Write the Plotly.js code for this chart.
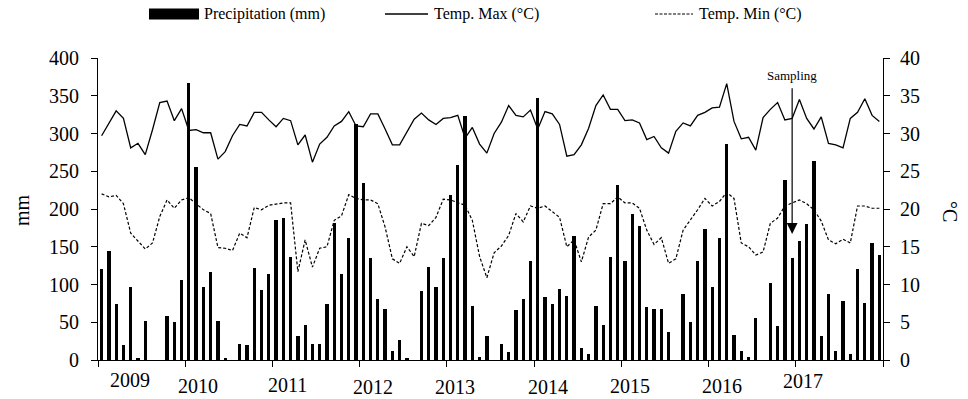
<!DOCTYPE html>
<html>
<head>
<meta charset="utf-8">
<script src="https://cdn.plot.ly/plotly-3.0.1.min.js"></script>
<style>html,body{margin:0;padding:0;background:#fff;}#chart{width:968px;height:399px;}</style>
</head>
<body>
<div id="chart"></div>
<script>
// ---- data (monthly, Jan 2009 .. Dec 2017) ----
const years = [2009, 2010, 2011, 2012, 2013, 2014, 2015, 2016, 2017];

const precipitation = [
  120, 145, 74, 20, 97, 3, 52, 0, 0, 58, 51, 106,
  367, 255, 97, 117, 52, 2, 0, 21, 20, 122, 93, 114,
  185, 188, 137, 32, 47, 21, 21, 74, 182, 114, 162, 312,
  235, 135, 81, 68, 12, 27, 3, 0, 91, 123, 97, 135,
  219, 258, 323, 71, 4, 32, 0, 21, 10, 66, 81, 131,
  347, 83, 74, 94, 85, 164, 16, 8, 71, 47, 137, 232,
  131, 193, 178, 70, 68, 68, 37, 0, 88, 51, 131, 174,
  97, 162, 286, 33, 12, 4, 55, 0, 102, 45, 238, 135,
  157, 180, 263, 32, 87, 12, 78, 8, 120, 75, 155, 139
];

const tempMax = [
  29.7, 31.4, 33.0, 32.0, 28.1, 28.7, 27.2, 30.5, 34.1, 34.3, 31.7, 33.3,
  30.4, 30.5, 30.1, 30.1, 26.6, 27.6, 29.7, 31.2, 31.0, 32.8, 32.8, 31.8,
  30.9, 32.0, 31.7, 28.5, 29.8, 26.2, 28.6, 29.5, 31.0, 31.6, 32.9, 31.0,
  30.9, 32.6, 32.6, 30.6, 28.5, 28.5, 30.3, 31.9, 32.7, 31.8, 31.2, 32.0,
  32.1, 32.4, 29.4, 30.8, 28.6, 27.4, 30.0, 31.5, 33.7, 32.4, 32.2, 33.1,
  30.6, 32.9, 32.6, 31.2, 27.0, 27.2, 28.5, 30.7, 33.7, 35.1, 33.2, 33.2,
  31.7, 31.8, 31.4, 29.2, 29.6, 28.1, 27.4, 30.3, 31.4, 31.0, 32.4, 32.8,
  33.4, 33.5, 36.6, 31.6, 29.3, 29.5, 27.8, 32.1, 33.2, 34.1, 31.8, 32.0,
  34.5, 32.0, 30.6, 32.2, 28.7, 28.5, 28.1, 32.0, 32.8, 34.6, 32.4, 31.6
];

const tempMin = [
  22.0, 21.6, 21.8, 20.7, 16.8, 15.8, 14.7, 15.5, 19.0, 21.2, 20.1, 21.2,
  21.5, 20.7, 19.9, 19.4, 14.9, 14.8, 14.5, 16.8, 16.2, 20.2, 19.9, 20.5,
  20.7, 20.8, 20.8, 11.7, 15.9, 12.3, 14.8, 15.0, 18.5, 19.1, 21.9, 21.4,
  21.2, 21.2, 20.7, 17.6, 13.4, 12.8, 15.0, 13.7, 18.1, 17.8, 18.9, 21.3,
  21.2, 20.9, 20.5, 18.5, 13.7, 10.9, 14.2, 15.1, 16.5, 19.4, 18.3, 20.4,
  20.1, 20.4, 19.6, 18.9, 15.0, 15.9, 13.0, 16.3, 17.2, 20.7, 20.7, 21.6,
  20.8, 20.8, 20.1, 17.2, 15.3, 16.2, 12.8, 13.4, 17.2, 18.5, 19.9, 21.4,
  20.4, 21.0, 22.2, 21.4, 15.5, 15.0, 13.9, 14.3, 18.1, 18.8, 20.4, 20.8,
  21.2, 20.7, 19.9, 18.4, 15.9, 15.4, 16.0, 15.5, 20.4, 20.4, 20.1, 20.1
];

const seriesNames = ['Precipitation (mm)', 'Temp. Max (°C)', 'Temp. Min (°C)'];
const samplingMonth = 95;     // month index (0 = Jan 2009) marked "Sampling"
const samplingLabel = 'Sampling';

// ---- build ----
const FONT = 'Liberation Serif, Times New Roman, serif';
const monthX = precipitation.map((_, i) => i + 0.5);
const nMonths = precipitation.length;

// plot area in pixels (for paper conversions)
const L = 98, R = 883, T = 58, B = 360;
const px2x = p => (p - L) / (R - L);
const py2y = p => (B - p) / (B - T);

const traces = [
  { type: 'bar', x: monthX, y: precipitation, width: 0.45,
    marker: { color: '#000', line: { width: 0 } }, name: seriesNames[0],
    yaxis: 'y', showlegend: false, hoverinfo: 'y' },
  { type: 'scatter', mode: 'lines', x: monthX, y: tempMax, name: seriesNames[1],
    line: { color: '#000', width: 1.3 }, yaxis: 'y2', showlegend: false },
  { type: 'scatter', mode: 'lines', x: monthX, y: tempMin, name: seriesNames[2],
    line: { color: '#000', width: 1.2, dash: '3px,2px' }, yaxis: 'y2', showlegend: false }
];

// year label placement (pixels, hand-placed in the source figure)
const yearPx = [130, 198, 287, 373, 455, 548, 630, 722, 803];
const yearPy = [380, 386, 385, 387, 387, 387, 386, 386, 381];

const annotations = years.map((yr, k) => ({
  x: px2x(yearPx[k]), xref: 'paper', y: py2y(yearPy[k]), yref: 'paper',
  text: String(yr), showarrow: false, xanchor: 'center', yanchor: 'middle',
  font: { family: FONT, size: 20, color: '#000' }
}));

// axis titles
annotations.push({ x: px2x(22), y: py2y(210), xref: 'paper', yref: 'paper', text: 'mm',
  xanchor: 'center', yanchor: 'middle',
  textangle: -90, showarrow: false, font: { family: FONT, size: 20, color: '#000' } });
annotations.push({ x: px2x(950), y: py2y(211), xref: 'paper', yref: 'paper', text: '°C',
  xanchor: 'center', yanchor: 'middle',
  textangle: 90, showarrow: false, font: { family: FONT, size: 20, color: '#000' } });

// sampling arrow
annotations.push({ x: samplingMonth + 0.5, y: 167, xref: 'x', yref: 'y',
  ax: samplingMonth + 0.5, ay: 377, axref: 'x', ayref: 'y',
  text: samplingLabel, showarrow: true, arrowhead: 2, arrowsize: 1.8, arrowwidth: 1.2,
  arrowcolor: '#000', startstandoff: 4,
  font: { family: FONT, size: 13, color: '#000' } });

// manual legend
const legY = py2y(14);
const shapes = [
  { type: 'rect', xref: 'paper', yref: 'paper', x0: px2x(149), x1: px2x(199),
    y0: py2y(19.5), y1: py2y(8.5), fillcolor: '#000', line: { width: 0 } },
  { type: 'line', xref: 'paper', yref: 'paper', x0: px2x(385), x1: px2x(428),
    y0: legY, y1: legY, line: { color: '#000', width: 1.3 } },
  { type: 'line', xref: 'paper', yref: 'paper', x0: px2x(655), x1: px2x(693),
    y0: legY, y1: legY, line: { color: '#000', width: 1.2, dash: '3px,1.5px' } }
];
[[202, seriesNames[0]], [432, seriesNames[1]], [697, seriesNames[2]]].forEach(([p, t]) => {
  annotations.push({ x: px2x(p), y: legY, xref: 'paper', yref: 'paper', text: t,
    showarrow: false, xanchor: 'left', yanchor: 'middle',
    font: { family: FONT, size: 16, color: '#000' } });
});

const layout = {
  width: 968, height: 399,
  margin: { l: L, r: 968 - R, t: T, b: 399 - B, pad: 0 },
  paper_bgcolor: '#fff', plot_bgcolor: '#fff',
  font: { family: FONT, size: 20, color: '#000' },
  showlegend: false,
  bargap: 0,
  xaxis: {
    range: [0, nMonths], tickmode: 'linear', tick0: 0, dtick: 12,
    showticklabels: false, ticks: 'outside', ticklen: 6, tickwidth: 1, tickcolor: '#000',
    showline: true, linecolor: '#000', linewidth: 1, showgrid: false, zeroline: false,
    fixedrange: true
  },
  yaxis: {
    range: [0, 400], tickmode: 'linear', tick0: 0, dtick: 50,
    ticks: 'outside', ticklen: 6, tickwidth: 1, tickcolor: '#000',
    showline: true, linecolor: '#000', linewidth: 1, showgrid: false, zeroline: false,
    tickfont: { family: FONT, size: 20, color: '#000' }, ticklabelstandoff: 8
  },
  yaxis2: {
    range: [0, 40], tickmode: 'linear', tick0: 0, dtick: 5, overlaying: 'y', side: 'right',
    ticks: 'outside', ticklen: 6, tickwidth: 1, tickcolor: '#000',
    showline: true, linecolor: '#000', linewidth: 1, showgrid: false, zeroline: false,
    tickfont: { family: FONT, size: 20, color: '#000' }, ticklabelstandoff: 6
  },
  annotations: annotations,
  shapes: shapes
};

Plotly.newPlot('chart', traces, layout, { displayModeBar: false, staticPlot: true });
</script>
</body>
</html>
